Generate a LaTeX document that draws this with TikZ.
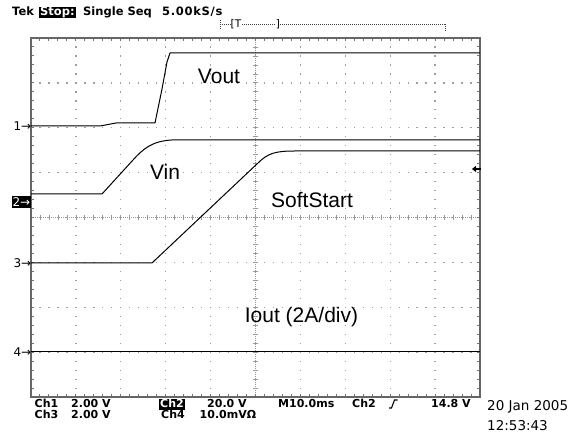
\documentclass[tikz,border=0pt]{standalone}
\usepackage{fontspec}
\setmainfont{DejaVu Sans}
\newfontfamily\arialfont{Liberation Sans}
\usetikzlibrary{arrows.meta}

\begin{document}
\begin{tikzpicture}[x=1pt, y=-1pt,
	screen/.style = {draw=black!60, line width=1.8pt},
	gdot/.style = {fill=black!38},
	gtick/.style = {draw=black!55, line width=1pt},
	ctick/.style = {draw=black!40, line width=0.8pt},
	trace/.style = {draw=black, line width=1pt, line join=round},
	wave/.style = {font=\arialfont\fontsize{21}{24}\selectfont, inner sep=0pt},
	scr/.style = {font=\bfseries\fontsize{11}{13}\selectfont, inner sep=0pt, anchor=base west},
	hdr/.style = {scr, font=\bfseries\fontsize{11.5}{13}\selectfont},
	inv/.style = {fill=black, text=white, inner xsep=1pt, text height=8.5pt, text depth=2.5pt},
	chmark/.style = {font=\fontsize{12}{14}\selectfont, inner sep=0pt, anchor=east}]
	\useasboundingbox[fill=white] (0,0) rectangle (574,435);
	\def\dv{44.9}
	\def\sb{8.98}
	% dotted graticule, 10 x 8 divisions
	\foreach \i in {1,...,9}
		\foreach \k in {1,...,39}
			\fill[gdot] ({31+\i*\dv-0.65},{38+\k*\sb-0.65}) rectangle +(1.3,1.3);
	\foreach \j in {1,...,7}
		\foreach \k in {1,...,49}
			\fill[gdot] ({31+\k*\sb-0.65},{38+\j*\dv-0.65}) rectangle +(1.3,1.3);
	\draw[black!40, line width=0.9pt, dash pattern=on 0.9pt off 1.1pt] (31,217.5) -- (480,217.5) (255.5,38) -- (255.5,397);
	\foreach \k in {1,...,49}
		\draw[ctick] ({31+\k*\sb},215) -- +(0,5);
	\foreach \k in {1,...,39}
		\draw[ctick] (253,{38+\k*\sb}) -- +(5,0);
	\foreach \k in {1,...,49}
		\draw[gtick] ({31+\k*\sb},38) -- +(0,3) ({31+\k*\sb},397) -- +(0,-3);
	\foreach \k in {1,...,39}
		\draw[gtick] (31,{38+\k*\sb}) -- +(3,0) (480,{38+\k*\sb}) -- +(-3,0);
	\draw[screen] (31,38) rectangle (480,397);

	% Vout
	\draw[trace] (31,126) -- (100,126) -- (116,123) -- (155,123) -- (162,89) -- (167,62) -- (170,53) -- (480,53);
	% Vin
	\draw[trace] (31,194) -- (102,194) -- (133,160) .. controls (143,149) and (152,141) .. (172,140) -- (480,140);
	% SoftStart
	\draw[trace] (31,263) -- (152,263) -- (258,163) .. controls (268,153) and (276,151) .. (295,151) -- (480,151);
	% Iout
	\draw[trace] (31,352) -- (480,352);

	\node[wave] (vout) at (219,76) {Vout};
	\node[wave] (vin) at (165,172) {Vin};
	\node[wave] (soft) at (312,200) {SoftStart};
	\node[wave] (iout) at (301.5,317.5) {Iout (2A/div)};

	% channel ground markers
	\node[chmark] (m1) at (31.5,126) {1→};
	\node[chmark, fill=black, text=white, inner xsep=1pt, inner ysep=2pt] (m2) at (31.5,202) {2→};
	\node[chmark] (m3) at (31.5,263) {3→};
	\node[chmark] (m4) at (31.5,352) {4→};

	% trigger level
	\coordinate (lvlA) at (481,169);
	\coordinate (lvlB) at (472,169);
	\draw[line width=1.2pt, -{Triangle[length=4pt, width=6pt]}] (lvlA) -- (lvlB);

	% record bar
	\draw[black!75, line width=0.8pt, dash pattern=on 0.8pt off 1.2pt] (220,24.5) -- (445,24.5) (220,20) -- (220,30) (445,24.5) -- (445,32);
	\node[font=\fontsize{10.5}{12}\selectfont, inner sep=0pt, fill=white] (lb) at (236,24.5) {[T};
	\node[font=\fontsize{10.5}{12}\selectfont, inner sep=0pt, fill=white] (rb) at (278,24.5) {]};

	% header
	\node[hdr] (tek) at (12,15.5) {Tek};
	\node[hdr, inv] (stop) at (39,15.5) {Stop:};
	\node[hdr] (seq) at (83,15.5) {Single Seq};
	\node[hdr] (rate) at (162,15.5) {\addfontfeatures{LetterSpace=6}5.00kS/s};

	% footer
	\node[scr] (ch1) at (34.5,408) {Ch1};
	\node[scr] (v1) at (71,408) {2.00 V};
	\node[scr, inv] (ch2) at (159,408) {Ch2};
	\node[scr] (v2) at (207,408) {20.0 V};
	\node[scr] (tb) at (278,408) {M10.0ms};
	\node[scr] (trg) at (352,408) {Ch2};
	\draw[line width=1.1pt] (389,408) -- (391.5,408) -- (394.5,400) -- (397.5,400);
	\node[scr] (lvl) at (431,408) {14.8 V};
	\node[scr] (ch3) at (34.5,419) {Ch3};
	\node[scr] (v3) at (71,419) {2.00 V};
	\node[scr] (ch4) at (161,419) {Ch4};
	\node[scr] (v4) at (199.5,419) {10.0mVΩ};
	\node[scr, font=\fontsize{13.5}{15}\selectfont] (date) at (487,411) {20 Jan 2005};
	\node[scr, font=\fontsize{13.5}{15}\selectfont] (time) at (487,431) {12:53:43};
\end{tikzpicture}
\end{document}
